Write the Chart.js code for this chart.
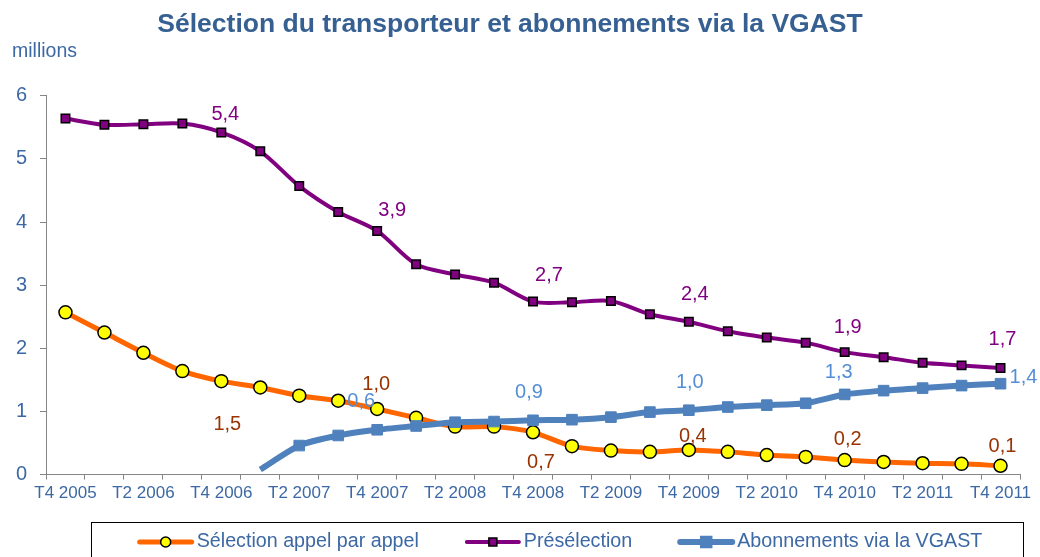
<!DOCTYPE html>
<html>
<head>
<meta charset="utf-8">
<script src="https://cdn.jsdelivr.net/npm/chart.js@4.4.0/dist/chart.umd.min.js"></script>
<style>
  html, body { margin: 0; padding: 0; background: #fff; }
</style>
</head>
<body>
<canvas id="chart" width="1040" height="557"></canvas>
<script>
// Trimestres (T4 2005 -> T4 2011)
const quarters = [
    "T4 2005", "T1 2006", "T2 2006", "T3 2006", "T4 2006",
    "T1 2007", "T2 2007", "T3 2007", "T4 2007",
    "T1 2008", "T2 2008", "T3 2008", "T4 2008",
    "T1 2009", "T2 2009", "T3 2009", "T4 2009",
    "T1 2010", "T2 2010", "T3 2010", "T4 2010",
    "T1 2011", "T2 2011", "T3 2011", "T4 2011"
];

// valeurs en millions
const selectionAppel = [2.57, 2.25, 1.93, 1.64, 1.48, 1.38, 1.25, 1.17, 1.04, 0.90, 0.76, 0.76, 0.67,
    0.45, 0.38, 0.36, 0.39, 0.36, 0.31, 0.28, 0.23, 0.20, 0.18, 0.17, 0.14];
const preselection = [5.64, 5.54, 5.55, 5.56, 5.42, 5.12, 4.57, 4.16, 3.86, 3.33, 3.17, 3.04, 2.74,
    2.73, 2.75, 2.54, 2.42, 2.27, 2.17, 2.09, 1.94, 1.86, 1.77, 1.73, 1.69];
const abonnementsVgast = [null, null, null, null, null, 0.08, 0.46, 0.62, 0.71, 0.77, 0.83, 0.84, 0.86,
    0.87, 0.91, 0.99, 1.02, 1.07, 1.10, 1.13, 1.27, 1.33, 1.37, 1.41, 1.44];

const yTicks = [0, 1, 2, 3, 4, 5, 6];

const FONT = '"Liberation Sans", Arial, sans-serif';
const TXT = '#3C68A4';

// étiquettes de valeurs : index -> décalage [dx, dy] en px
const labelOffsets = [
    { 4: [6, 43], 8: [-1, -24], 12: [8, 30], 16: [4, -13], 20: [3, -21], 24: [2, -19] },
    { 4: [4, -18], 8: [15, -20], 12: [16, -26], 16: [6, -27], 20: [3, -25], 24: [2, -28] },
    { 7: [23, -34], 12: [-4, -28], 16: [1, -28], 20: [-6, -22], 24: [23, -6] }
];
const labelColors = ['#993300', '#800080', '#558ED5'];

const valueLabels = {
    id: 'valueLabels',
    afterDatasetsDraw(chart) {
        const ctx = chart.ctx;
        ctx.save();
        ctx.font = '20px ' + FONT;
        ctx.textAlign = 'center';
        ctx.textBaseline = 'middle';
        chart.data.datasets.forEach((ds, i) => {
            const meta = chart.getDatasetMeta(i);
            const offs = labelOffsets[i];
            Object.keys(offs).forEach(k => {
                const pt = meta.data[k];
                const v = ds.data[k];
                ctx.fillStyle = labelColors[i];
                ctx.fillText(v.toFixed(1).replace('.', ','), pt.x + offs[k][0], pt.y + offs[k][1]);
            });
        });
        ctx.restore();
    }
};

// légende encadrée + "millions"
const extras = {
    id: 'extras',
    afterDraw(chart) {
        const ctx = chart.ctx;
        ctx.save();
        ctx.fillStyle = TXT;
        ctx.font = '19.5px ' + FONT;
        ctx.textAlign = 'left';
        ctx.textBaseline = 'middle';
        ctx.fillText('millions', 12, 52);

        ctx.strokeStyle = '#000';
        ctx.lineWidth = 1;
        ctx.strokeRect(91.5, 522.5, 932, 60);

        ctx.font = '19.7px ' + FONT;
        const y = 542;
        const lineW = 56, gapTxt = 3, gapItem = 46;
        const ds = chart.data.datasets;
        let total = 0;
        ds.forEach(d => { total += lineW + gapTxt + ctx.measureText(d.label).width; });
        total += gapItem * (ds.length - 1);
        let x = 560 - total / 2;
        ds.forEach(d => {
            ctx.strokeStyle = d.borderColor;
            ctx.lineWidth = d.borderWidth;
            ctx.lineCap = 'round';
            ctx.beginPath();
            ctx.moveTo(x + 2, y);
            ctx.lineTo(x + lineW - 2, y);
            ctx.stroke();
            const cx = x + lineW / 2;
            ctx.fillStyle = d.pointBackgroundColor;
            ctx.strokeStyle = d.pointBorderColor;
            ctx.lineWidth = 1.5;
            ctx.beginPath();
            if (d.pointStyle === 'circle') {
                ctx.arc(cx, y, 5, 0, Math.PI * 2);
            } else {
                const s = d.legendMarker;
                ctx.rect(cx - s / 2, y - s / 2, s, s);
            }
            ctx.fill();
            ctx.stroke();
            ctx.fillStyle = TXT;
            ctx.fillText(d.label, x + lineW + gapTxt, y);
            x += lineW + gapTxt + ctx.measureText(d.label).width + gapItem;
        });
        ctx.restore();
    }
};

new Chart(document.getElementById('chart'), {
    type: 'line',
    data: {
        labels: quarters,
        datasets: [
            {
                label: 'Sélection appel par appel',
                data: selectionAppel,
                borderColor: '#FF6600',
                borderWidth: 5,
                pointStyle: 'circle',
                pointRadius: 6.5,
                pointBackgroundColor: '#FFFF00',
                pointBorderColor: '#000000',
                pointBorderWidth: 1.5,
                tension: 0.3,
                order: 3
            },
            {
                label: 'Présélection',
                data: preselection,
                borderColor: '#800080',
                borderWidth: 4,
                pointStyle: 'rect',
                pointRadius: 6,
                pointBackgroundColor: '#800080',
                pointBorderColor: '#000000',
                pointBorderWidth: 1.5,
                legendMarker: 8,
                tension: 0.3,
                order: 2
            },
            {
                label: 'Abonnements via la VGAST',
                data: abonnementsVgast,
                borderColor: '#4F81BD',
                borderWidth: 6,
                pointStyle: 'rect',
                pointRadius: abonnementsVgast.map((v, i) => i === 5 ? 0 : 7.5),
                pointBackgroundColor: '#4F81BD',
                pointBorderColor: '#4F81BD',
                pointBorderWidth: 1,
                legendMarker: 11,
                tension: 0.2,
                order: 1
            }
        ]
    },
    options: {
        responsive: false,
        animation: false,
        devicePixelRatio: 1,
        layout: { padding: { left: 0, right: 20, top: 0, bottom: 49 } },
        plugins: {
            legend: { display: false },
            tooltip: { enabled: false },
            title: {
                display: true,
                text: 'Sélection du transporteur et abonnements via la VGAST',
                color: '#376092',
                font: { family: FONT, size: 26.5, weight: 'bold' },
                padding: { top: 9, bottom: 55 }
            }
        },
        scales: {
            x: {
                offset: true,
                grid: { offset: true, drawOnChartArea: false, drawTicks: true, tickLength: 5, color: '#868686' },
                border: { display: true, color: '#868686', width: 1 },
                ticks: {
                    autoSkip: false,
                    maxRotation: 0,
                    minRotation: 0,
                    padding: 4,
                    color: TXT,
                    font: { family: FONT, size: 17 },
                    callback: (v, i) => i % 2 === 0 ? quarters[i] : ''
                }
            },
            y: {
                min: yTicks[0],
                max: yTicks[yTicks.length - 1],
                afterFit: s => { s.width = 46; },
                afterBuildTicks: s => { s.ticks = yTicks.map(v => ({ value: v })); },
                grid: { drawOnChartArea: false, drawTicks: true, tickLength: 6, color: '#868686' },
                border: { display: true, color: '#868686', width: 1 },
                ticks: {
                    padding: 13,
                    color: TXT,
                    font: { family: FONT, size: 20 }
                }
            }
        }
    },
    plugins: [valueLabels, extras]
});
</script>
</body>
</html>
